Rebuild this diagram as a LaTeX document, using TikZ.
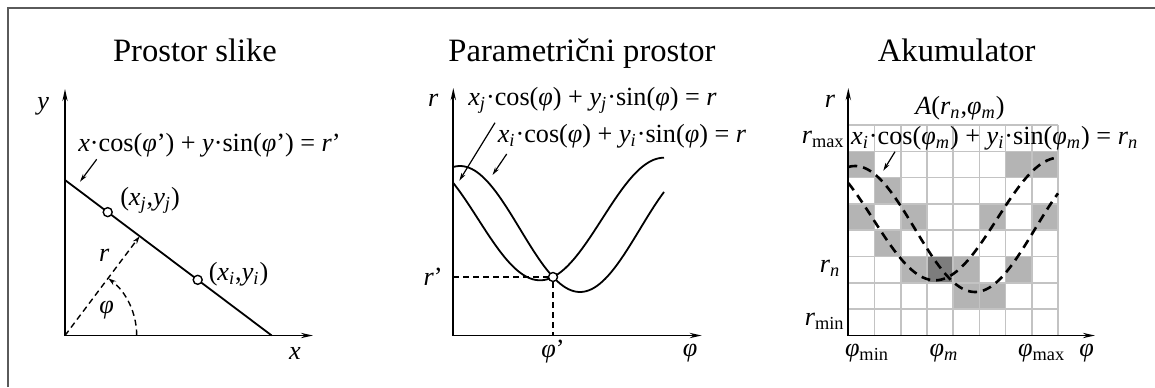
\documentclass[tikz,border=0pt]{standalone}
\usepackage{fontspec}
\setmainfont{Liberation Serif}
\usetikzlibrary{arrows.meta,calc}
\definecolor{framegray}{RGB}{90,90,90}
\definecolor{cellgray}{RGB}{180,180,180}
\definecolor{celldark}{RGB}{125,125,125}
\definecolor{gridgray}{RGB}{195,195,195}
\newcommand{\Vi}[1]{\textit{#1}}
\newcommand{\Sb}[1]{\textsubscript{\textit{#1}}}
\newcommand{\Su}[1]{\textsubscript{#1}}
\newcommand{\fii}{\textit{φ}}

\begin{document}
\begin{tikzpicture}[x=0.5pt,y=-0.5pt,
    axis/.style={-{Stealth[length=6pt,width=2.6pt]}, line width=0.9pt},
    pointer/.style={-{Stealth[length=4pt,width=2.2pt]}, line width=0.6pt},
    hdash/.style={dash pattern=on 3pt off 2pt, line width=0.7pt},
    curve/.style={line width=0.9pt},
    acccurve/.style={line width=1.3pt, dash pattern=on 4.5pt off 3pt},
    dot/.style={circle, draw, fill=white, line width=0.7pt, inner sep=0pt, minimum size=4.5pt},
    lbl/.style={inner sep=0pt, font=\fontsize{13.1}{16}\selectfont},
    ttl/.style={inner sep=0pt, anchor=base, font=\fontsize{16.3}{19}\selectfont}]

  \useasboundingbox (0,0) rectangle (1155,387);
  \draw[framegray, line width=1pt] (7.5,387) |- (1155,8);

  % image space
  \node[ttl] (title1) at (195,61) {Prostor slike};
  \coordinate (o1) at (65,335.5);
  \coordinate (y1) at (65,89);
  \coordinate (x1) at (313,335.5);
  \coordinate (la) at (65,180);
  \coordinate (lb) at (271.7,335.5);
  \coordinate (foot) at ($(la)!(o1)!(lb)$);
  \coordinate (a0) at (136.7,335.5);
  \draw[hdash, -{Stealth[length=4pt,width=2.4pt]}] (o1) -- (foot);
  \draw[hdash, -{Stealth[length=4pt,width=2.4pt]}] (a0) arc[start angle=0, end angle=52.9, radius=35.85pt];
  \draw[curve] (la) -- (lb);
  \draw[axis] (o1) -- (y1);
  \draw[axis] (o1) -- (x1);
  \node[dot] (pj) at ($(la)!0.2066!(lb)$) {};
  \node[dot] (pi) at ($(la)!0.642!(lb)$) {};
  \node[lbl] (pjlbl) at (150,200) {(\Vi{x}\Sb{j},\Vi{y}\Sb{j})};
  \node[lbl] (pilbl) at (238.5,274) {(\Vi{x}\Sb{i},\Vi{y}\Sb{i})};
  \node[lbl] (ylbl1) at (43.3,106) {\Vi{y}};
  \node[lbl] (xlbl1) at (295,353) {\Vi{x}};
  \node[lbl] (rlbl1) at (104.3,255) {\Vi{r}};
  \node[lbl] (flbl1) at (106.7,310) {\fii};
  \node[lbl] (eq1) at (209.5,145) {\Vi{x}·cos(\fii’) + \Vi{y}·sin(\fii’) = \Vi{r}’};
  \coordinate (p1s) at (96.7,159.3);
  \coordinate (p1e) at (80,181.7);
  \draw[pointer] (p1s) -- (p1e);

  % parameter space
  \node[ttl] (title2) at (582,61) {Parametrični prostor};
  \coordinate (o2) at (453.3,335.5);
  \coordinate (y2) at (453.3,88);
  \coordinate (x2) at (701.7,335.5);
  \draw[curve] plot[domain=453.3:664, samples=80] (\x, {229-63*cos((\x-460)*1.5)});
  \draw[curve] plot[domain=453.3:664, samples=80] (\x, {219-61.3*cos((\x-664)*1.452)});
  \draw[axis] (o2) -- (y2);
  \draw[axis] (o2) -- (x2);
  \node[dot] (cross) at (553,277) {};
  \coordinate (rp) at (453.3,277);
  \coordinate (fp) at (553,335.5);
  \draw[hdash] (rp) -- (cross);
  \draw[hdash] (cross) -- (fp);
  \node[lbl] (rlbl2) at (433.3,100) {\Vi{r}};
  \node[lbl] (rplbl) at (433,277) {\Vi{r}’};
  \node[lbl] (fplbl) at (553,351.7) {\fii’};
  \node[lbl] (flbl2) at (690,353.3) {\fii};
  \node[lbl] (eqj) at (592.5,100) {\Vi{x}\Sb{j}·cos(\fii) + \Vi{y}\Sb{j}·sin(\fii) = \Vi{r}};
  \node[lbl] (eqi) at (622,136.7) {\Vi{x}\Sb{i}·cos(\fii) + \Vi{y}\Sb{i}·sin(\fii) = \Vi{r}};
  \coordinate (pjs) at (495,122.7);
  \coordinate (pje) at (459.3,180.7);
  \coordinate (pis) at (506.7,154);
  \coordinate (pie) at (492.5,175);
  \draw[pointer] (pjs) -- (pje);
  \draw[pointer] (pis) -- (pie);

  % accumulator
  \node[ttl] (title3) at (956.7,61) {Akumulator};
  \foreach \c/\r in {0/1,6/1,7/1,1/2,0/3,2/3,5/3,7/3,1/4,2/5,4/5,6/5,4/6,5/6}
    \fill[cellgray] ({848.3+\c*26.2},{125+\r*26.3}) rectangle ++(26.2,26.3);
  \fill[celldark] ({848.3+3*26.2},{125+5*26.3}) rectangle ++(26.2,26.3);
  \foreach \i in {0,...,8} {
    \draw[gridgray, line width=0.8pt] ({848.3+\i*26.2},125) -- ({848.3+\i*26.2},335.5);
    \draw[gridgray, line width=0.8pt] (848.3,{125+\i*26.3}) -- (1057.9,{125+\i*26.3});
  }
  \draw[acccurve] plot[domain=848.3:1058, samples=80] (\x, {229-63*cos((\x-855)*1.5)});
  \draw[acccurve] plot[domain=848.3:1058, samples=80] (\x, {219-61.3*cos((\x-1059)*1.452)});
  \coordinate (o3) at (848.3,335.5);
  \coordinate (y3) at (848.3,88);
  \coordinate (x3) at (1095,335.5);
  \draw[axis] (o3) -- (y3);
  \draw[axis] (o3) -- (x3);
  \node[lbl] (rlbl3) at (830,101.7) {\Vi{r}};
  \node[lbl] (alabel) at (960,108.3) {\Vi{A}(\Vi{r}\Sb{n},\fii\Sb{m})};
  \node[lbl, anchor=east] (rmax) at (845,139.3) {\Vi{r}\Su{max}};
  \node[lbl] (eqacc) at (994.7,138.3) {\Vi{x}\Sb{i}·cos(\fii\Sb{m}) + \Vi{y}\Sb{i}·sin(\fii\Sb{m}) = \Vi{r}\Sb{n}};
  \coordinate (pas) at (895,151.7);
  \coordinate (pae) at (883.3,170.7);
  \draw[pointer] (pas) -- (pae);
  \node[lbl] (rn) at (830,268.3) {\Vi{r}\Sb{n}};
  \node[lbl, anchor=east] (rmin) at (845,321.7) {\Vi{r}\Su{min}};
  \node[lbl] (fmin) at (867,353.3) {\fii\Su{min}};
  \node[lbl] (fm) at (944,353.3) {\fii\Sb{m}};
  \node[lbl] (fmax) at (1041.7,353.3) {\fii\Su{max}};
  \node[lbl] (flbl3) at (1086.7,353.3) {\fii};
\end{tikzpicture}
\end{document}
